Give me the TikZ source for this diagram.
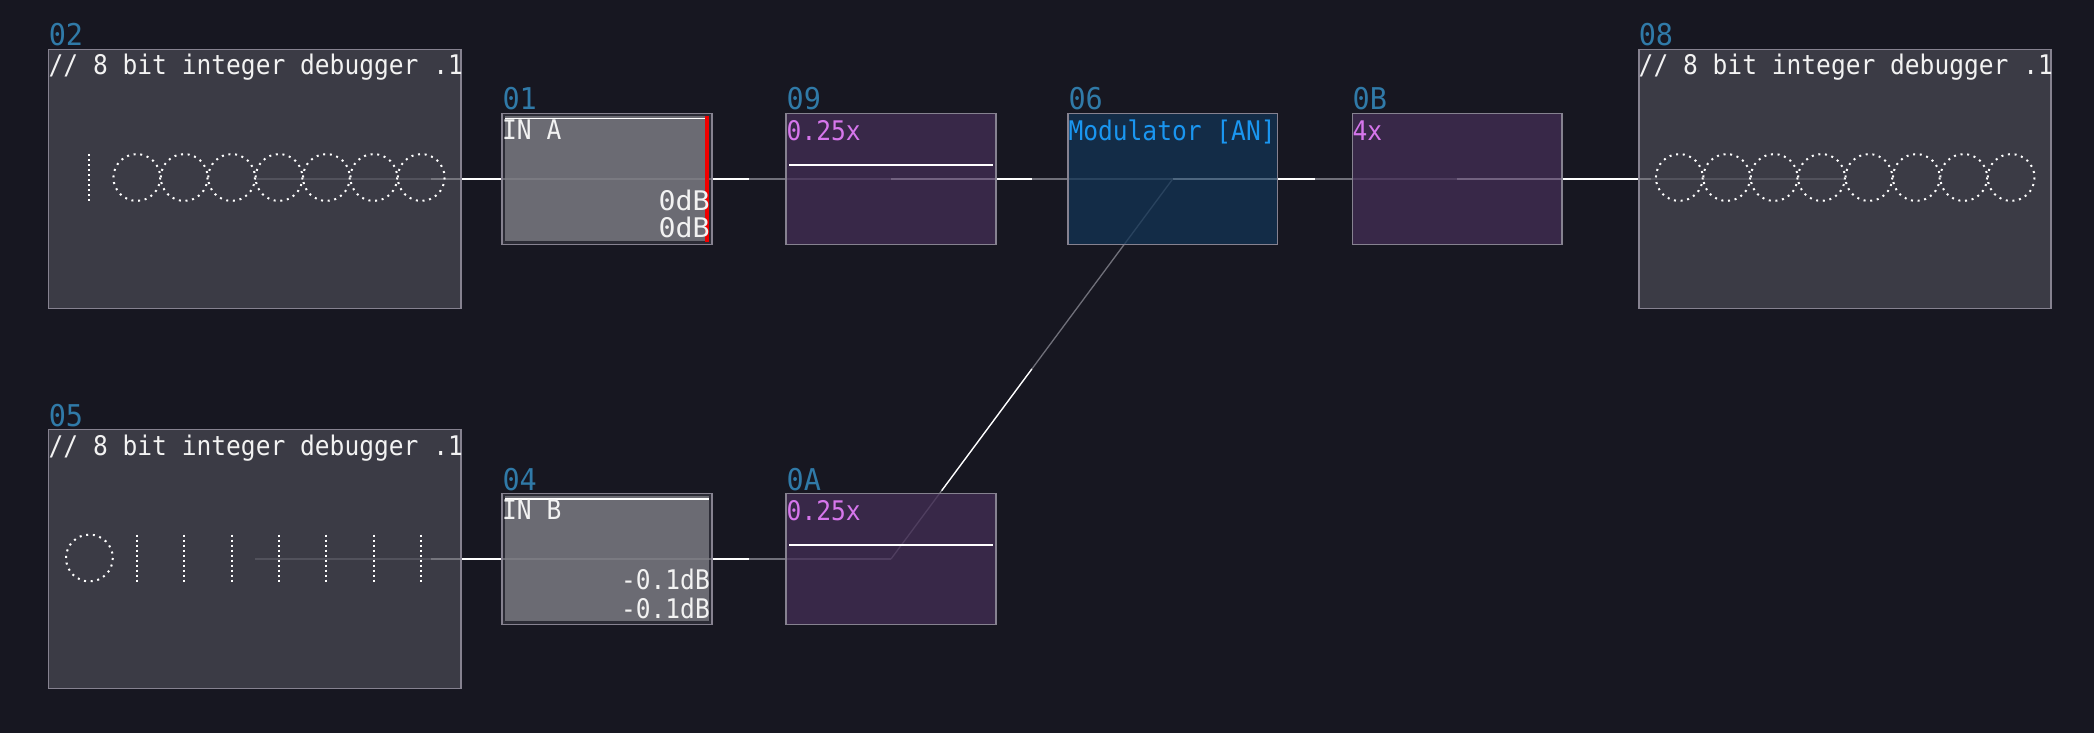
\documentclass[tikz,border=0pt]{standalone}
\usepackage{fontspec}
\usetikzlibrary{calc}
\newfontfamily\pixfont[FakeStretch=0.91]{DejaVu Sans Mono}
\newfontfamily\widefont[FakeStretch=1.05]{DejaVu Sans Mono}
\newfontfamily\labfont[FakeStretch=0.95]{DejaVu Sans Mono}
\definecolor{bgc}{RGB}{23,23,33}
\definecolor{edgec}{RGB}{134,130,144}
\definecolor{grayfill}{RGB}{72,72,82}
\definecolor{purplefill}{RGB}{68,46,86}
\definecolor{bluefill}{RGB}{18,52,85}
\definecolor{gaindark}{RGB}{52,52,62}
\definecolor{gainfill}{RGB}{129,129,136}
\definecolor{wirec}{RGB}{112,112,122}
\definecolor{labc}{RGB}{48,122,168}
\definecolor{pinkc}{RGB}{214,118,236}
\definecolor{bluec}{RGB}{26,150,240}
\definecolor{textc}{RGB}{242,242,242}
\definecolor{redc}{RGB}{240,0,0}
\pgfdeclarelayer{bglayer}
\pgfdeclarelayer{wirelayer}
\pgfsetlayers{bglayer,wirelayer,main}
\tikzset{
  nodebox/.style={rectangle, inner sep=0pt, outer sep=0pt, draw=edgec, line width=1.7pt, fill opacity=0.75, draw opacity=1},
  bigbox/.style={nodebox, fill=grayfill, minimum width=412.5pt, minimum height=258.9pt},
  smallbox/.style={nodebox, minimum width=209.5pt, minimum height=130.9pt},
  purplebox/.style={smallbox, fill=purplefill},
  bluebox/.style={smallbox, fill=bluefill},
  gainbox/.style={smallbox, fill=gaindark},
  wire/.style={draw=wirec, line width=2pt},
  hot/.style={draw=white, line width=2pt},
  diagwire/.style={draw=wirec, line width=1.3pt},
  diaghot/.style={draw=white, line width=1.3pt},
  lab/.style={anchor=base west, inner sep=0pt, text=labc, font=\labfont\fontsize{30}{30}\selectfont},
  txt/.style={anchor=base west, inner sep=0pt, text=textc, font=\pixfont\fontsize{27}{27}\selectfont},
  pinktxt/.style={txt, text=pinkc},
  bluetxt/.style={txt, text=bluec},
  rtxt/.style={txt, anchor=base east},
  widetxt/.style={rtxt, font=\widefont\fontsize{27}{27}\selectfont},
  bitbar/.style={draw=white, line width=2pt, dash pattern=on 2pt off 3pt},
  bitring/.style={draw=white, line width=2pt, dash pattern=on 2pt off 4.68pt},
  meter/.style={draw=white, line width=2pt},
}
\begin{document}
\begin{tikzpicture}[x=1pt,y=-1pt]
\useasboundingbox (0,0) rectangle (2094,733);
\begin{pgfonlayer}{bglayer}
\fill[bgc] (0,0) rectangle (2094,733);
\end{pgfonlayer}

% boxes
\node[bigbox] (n02) at (254.8,179) {};
\node[bigbox] (n08) at (1845,179) {};
\node[bigbox] (n05) at (254.8,559) {};
\node[gainbox] (n01) at (607,179) {};
\node[gainbox] (n04) at (607,559) {};
\node[purplebox] (n09) at (891,179) {};
\node[bluebox] (n06) at (1172.7,179) {};
\node[purplebox] (n0B) at (1457.2,179) {};
\node[purplebox] (n0A) at (891,559) {};

% gain inner panels
\fill[gainfill, fill opacity=0.75] ($(n01.north west)+(2.8,2.6)$) rectangle ($(n01.south east)+(-2.8,-3)$);
\fill[gainfill, fill opacity=0.75] ($(n04.north west)+(2.8,2.6)$) rectangle ($(n04.south east)+(-2.8,-3)$);

% wires
\begin{pgfonlayer}{wirelayer}
\draw[wire] (n02.center) -- (n01.center);
\draw[hot] ($(n02.center)!0.5!(n01.center)$) -- (n01.center);
\draw[wire] (n01.center) -- (n09.center);
\draw[hot] (n01.center) -- ($(n01.center)!0.5!(n09.center)$);
\draw[wire] (n09.center) -- (n06.center);
\draw[hot] (n09.center) -- ($(n09.center)!0.5!(n06.center)$);
\draw[wire] (n06.center) -- (n0B.center);
\draw[hot] (n06.center) -- ($(n06.center)!0.5!(n0B.center)$);
\draw[wire] (n0B.center) -- (n08.center);
\draw[hot] (n0B.center) -- ($(n0B.center)!0.5!(n08.center)$);
\draw[wire] (n05.center) -- (n04.center);
\draw[hot] ($(n05.center)!0.5!(n04.center)$) -- (n04.center);
\draw[wire] (n04.center) -- (n0A.center);
\draw[hot] (n04.center) -- ($(n04.center)!0.5!(n0A.center)$);
\draw[diagwire] (n0A.center) -- (n06.center);
\draw[diaghot] ($(n0A.center)!0.18!(n06.center)$) -- ($(n0A.center)!0.5!(n06.center)$);
\end{pgfonlayer}

% labels
\node[lab] (l02) at (48.6,46) {02};
\node[lab] (l08) at (1638.6,46) {08};
\node[lab] (l05) at (48.6,426) {05};
\node[lab] (l01) at (502.3,110) {01};
\node[lab] (l09) at (786.5,110) {09};
\node[lab] (l06) at (1068.3,110) {06};
\node[lab] (l0B) at (1352.4,110) {0B};
\node[lab] (l04) at (502.3,490) {04};
\node[lab] (l0A) at (786.5,490) {0A};

% titles
\node[txt] (t02) at (48.5,75) {// 8 bit integer debugger .1};
\node[txt] (t08) at (1638.5,75) {// 8 bit integer debugger .1};
\node[txt] (t05) at (48.5,455) {// 8 bit integer debugger .1};

% gain nodes
\draw[meter, line width=1.4pt] (505,118.8) -- (709,118.8);
\fill[redc] (705.3,115.7) rectangle (709,241.7);
\node[txt] (ina) at (502,140) {IN A};
\node[widetxt] (ga1) at (710,210) {0dB};
\node[widetxt] (ga2) at (710,237.5) {0dB};
\draw[meter, line width=1.4pt] (505,498.8) -- (709,498.8);
\node[txt] (inb) at (502,519.5) {IN B};
\node[rtxt] (gb1) at (710,589) {-0.1dB};
\node[rtxt] (gb2) at (710,618) {-0.1dB};

% multipliers / modulator
\node[pinktxt] (m09) at (786.5,140.5) {0.25x};
\draw[meter] (789,165) -- (993,165);
\node[bluetxt] (m06) at (1068.3,140.5) {Modulator [AN]};
\node[pinktxt] (m0B) at (1352.4,140.5) {4x};
\node[pinktxt] (m0A) at (786.5,520) {0.25x};
\draw[meter] (789,545) -- (993,545);

% bit displays
\foreach \b [count=\i from 0] in {1,0,0,0,0,0,0,0} {
  \pgfmathsetmacro\bx{89.4+47.4*\i}
  \ifnum\b=1 \draw[bitbar] (\bx,154) -- (\bx,201); \else \draw[bitring] (\bx,177.5) circle[radius=23.4]; \fi
}
\foreach \i in {0,...,7} {
  \pgfmathsetmacro\bx{1679.3+47.4*\i}
  \draw[bitring] (\bx,177.5) circle[radius=23.4];
}
\foreach \b [count=\i from 0] in {0,1,1,1,1,1,1,1} {
  \pgfmathsetmacro\bx{89.4+47.4*\i}
  \ifnum\b=1 \draw[bitbar] (\bx,534.5) -- (\bx,581.5); \else \draw[bitring] (\bx,558) circle[radius=23.4]; \fi
}
\end{tikzpicture}
\end{document}
